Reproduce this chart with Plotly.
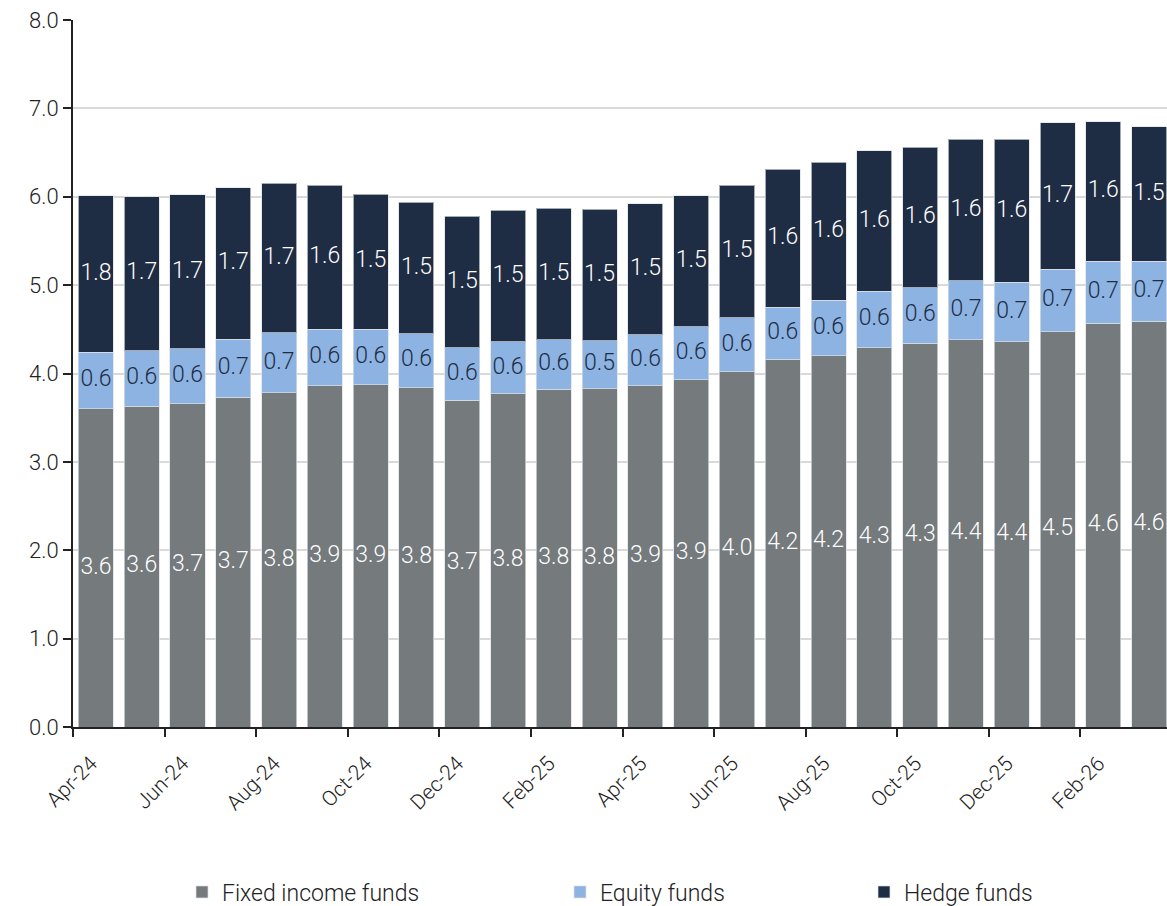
import plotly.graph_objects as go

months = ["Apr-24","May-24","Jun-24","Jul-24","Aug-24","Sep-24","Oct-24","Nov-24","Dec-24",
          "Jan-25","Feb-25","Mar-25","Apr-25","May-25","Jun-25","Jul-25","Aug-25","Sep-25",
          "Oct-25","Nov-25","Dec-25","Jan-26","Feb-26","Mar-26"]
fixed_income = [3.60,3.63,3.66,3.73,3.78,3.86,3.87,3.84,3.70,3.77,3.82,3.83,
                3.86,3.93,4.02,4.16,4.20,4.29,4.34,4.38,4.36,4.47,4.57,4.59]
equity = [0.64,0.63,0.62,0.66,0.68,0.64,0.63,0.61,0.59,0.59,0.56,0.54,
          0.58,0.60,0.61,0.59,0.63,0.64,0.63,0.67,0.67,0.71,0.70,0.68]
hedge = [1.77,1.74,1.74,1.71,1.69,1.63,1.53,1.49,1.49,1.49,1.49,1.49,
         1.48,1.48,1.50,1.56,1.56,1.59,1.59,1.60,1.62,1.66,1.58,1.52]
tick_labels = months[::2]

x = [i + 0.5 for i in range(len(months))]
tickvals = list(range(0, len(months), 2))

FONT = "Roboto"
W, H = 1167, 906
series = [
    ("Fixed income funds", fixed_income, "#757a7d", "white", "legend", 222),
    ("Equity funds", equity, "#8db3e2", "#1f2d44", "legend2", 600),
    ("Hedge funds", hedge, "#1f2d44", "white", "legend3", 904),
]

fig = go.Figure()
legend_layouts = {}
base = [0.0] * len(months)
for name, vals, color, tcolor, leg, text_x in series:
    fig.add_trace(go.Bar(
        x=x, y=vals, name=name, width=0.765, legend=leg,
        marker=dict(color=color, line=dict(color="rgba(220,225,230,0.7)", width=1)),
    ))
    # segment value labels, centred in each stacked segment
    mids = [b + v / 2 for b, v in zip(base, vals)]
    fig.add_trace(go.Scatter(
        x=x, y=mids, mode="text", text=[f"{v:.1f}" for v in vals],
        textposition="middle center", showlegend=False, hoverinfo="skip",
        textfont=dict(family=FONT, size=23, color=tcolor, weight=300),
        cliponaxis=False,
    ))
    base = [b + v for b, v in zip(base, vals)]
    legend_layouts[leg] = dict(
        xref="container", yref="container",
        x=(text_x - 40) / W, xanchor="left",
        y=(H - 892) / H, yanchor="middle",
        bgcolor="rgba(0,0,0,0)",
        font=dict(family=FONT, size=23, color="#222222", weight=300),
    )

fig.update_layout(
    barmode="stack",
    width=W, height=H,
    margin=dict(l=73, r=0, t=20, b=179, autoexpand=False),
    paper_bgcolor="white", plot_bgcolor="white",
    font=dict(family=FONT, size=21, color="#222222"),
    showlegend=True,
    xaxis=dict(range=[0, 23.89], tickvals=tickvals, ticktext=tick_labels,
               tickangle=-45, ticks="outside", ticklen=8, tickcolor="#222222",
               tickwidth=2, ticklabelshift=18, ticklabelstandoff=6,
               showline=True, linecolor="#222222", linewidth=2,
               showgrid=False, zeroline=False,
               tickfont=dict(family=FONT, size=21, color="#222222", weight=300)),
    yaxis=dict(range=[0, 8], dtick=1, tickformat=".1f",
               ticks="outside", ticklen=8, tickcolor="#222222", tickwidth=2,
               showline=True, linecolor="#222222", linewidth=2,
               showgrid=True, gridcolor="#d9d9d9", gridwidth=2, zeroline=False,
               tickfont=dict(family=FONT, size=22, color="#222222", weight=300)),
    **legend_layouts,
)

fig.write_html("out.html", config={"displayModeBar": False},
               post_script="document.body.style.margin='0';")
